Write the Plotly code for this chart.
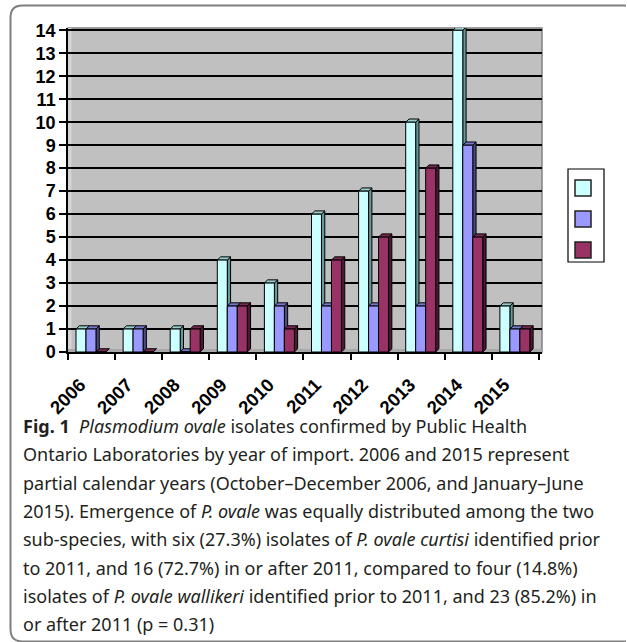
import plotly.graph_objects as go

# Isolates per year of import
years = ["2006", "2007", "2008", "2009", "2010", "2011", "2012", "2013", "2014", "2015"]
total_isolates = [1, 1, 1, 4, 3, 6, 7, 10, 14, 2]
curtisi_isolates = [1, 1, 0, 2, 2, 2, 2, 2, 9, 1]
wallikeri_isolates = [0, 0, 1, 2, 1, 4, 5, 8, 5, 1]
y_ticks = list(range(0, 15))

caption_lines = [
    "<b>Fig. 1</b>  <i>Plasmodium ovale</i> isolates confirmed by Public Health",
    "Ontario Laboratories by year of import. 2006 and 2015 represent",
    "partial calendar years (October–December 2006, and January–June",
    "2015). Emergence of <i>P. ovale</i> was equally distributed among the two",
    "sub-species, with six (27.3%) isolates of <i>P. ovale curtisi</i> identified prior",
    "to 2011, and 16 (72.7%) in or after 2011, compared to four (14.8%)",
    "isolates of <i>P. ovale wallikeri</i> identified prior to 2011, and 23 (85.2%) in",
    "or after 2011 (p = 0.31)",
]

# Styling: front / top / side colours for the pseudo-3D columns
series = [
    ("Total", total_isolates, "#CCFFFF", "#99CCCC", "#669999"),
    ("P. ovale curtisi", curtisi_isolates, "#9999FF", "#7777CC", "#4C4C80"),
    ("P. ovale wallikeri", wallikeri_isolates, "#993366", "#7A2952", "#4C1933"),
]

W, H = 627, 642
ML, MR, MT, MB = 68, 85, 28, 290
X_RANGE = [-0.5, 9.564]
Y_RANGE = [0, 14.1]
BAR_W = 0.212
OFFSETS = [-0.33, -0.118, 0.094]
DX, DY = 0.07, 0.14  # depth of the 3D faces in axis units
LABEL_SHIFT = -0.24  # rotated year labels sit left of the group centre

plot_w = W - ML - MR
plot_h = H - MT - MB


def px(x):
    return (x - ML) / plot_w


def py(y):
    return (H - MB - y) / plot_h


fig = go.Figure()
shapes = []
xs = list(range(len(years)))

# Outline of the back wall
shapes.append(dict(type="rect", xref="paper", yref="paper", layer="below",
                   x0=0, x1=1, y0=0, y1=1, line=dict(color="#808080", width=1.5)))
# Thin side wall and floor strips
shapes.append(dict(type="rect", xref="paper", yref="paper", layer="below",
                   x0=px(68), x1=px(71.5), y0=py(350), y1=1,
                   fillcolor="#D4D4D4", line=dict(width=0)))
shapes.append(dict(type="rect", xref="paper", yref="paper", layer="below",
                   x0=0, x1=1, y0=0, y1=py(349),
                   fillcolor="#A8A8A8", line=dict(width=0)))

for (name, vals, front, top, side), off in zip(series, OFFSETS):
    fig.add_trace(go.Bar(
        x=xs, y=vals, name=name, width=BAR_W, offset=off,
        marker=dict(color=front, line=dict(color="black", width=1)),
    ))
    for xi, v in zip(xs, vals):
        left = xi + off
        right = left + BAR_W
        shapes.append(dict(
            type="path", xref="x", yref="y", layer="between",
            path=f"M{right},0 L{right},{v} L{right + DX},{v + DY} L{right + DX},{DY} Z",
            fillcolor=side, line=dict(color="black", width=1),
        ))
        shapes.append(dict(
            type="path", xref="x", yref="y", layer="between",
            path=f"M{left},{v} L{right},{v} L{right + DX},{v + DY} L{left + DX},{v + DY} Z",
            fillcolor=top, line=dict(color="black", width=1),
        ))

# Legend box with colour swatches only
shapes.append(dict(type="rect", xref="paper", yref="paper",
                   x0=px(568), x1=px(604), y0=py(169), y1=py(262),
                   fillcolor="white", line=dict(color="black", width=1.2)))
for i, (_, _, front, _, _) in enumerate(series):
    y0 = 180 + 31 * i
    shapes.append(dict(type="rect", xref="paper", yref="paper",
                       x0=px(575), x1=px(591), y0=py(y0), y1=py(y0 + 16),
                       fillcolor=front, line=dict(color="#222222", width=1.5)))

# Rounded frame around figure and caption
fx0, fy0, fx1, fy1, r = 10.5, 5.5, 626, 641.5, 12
frame = (
    f"M{px(fx0)},{py(fy0 + r)} Q{px(fx0)},{py(fy0)} {px(fx0 + r)},{py(fy0)} "
    f"L{px(fx1)},{py(fy0)} "
    f"M{px(fx0)},{py(fy0 + r)} L{px(fx0)},{py(fy1 - r)} "
    f"Q{px(fx0)},{py(fy1)} {px(fx0 + r)},{py(fy1)} L{px(fx1)},{py(fy1)}"
)
shapes.append(dict(type="path", xref="paper", yref="paper", path=frame,
                   line=dict(color="#7F7F7F", width=2)))

annotations = []
for i, line in enumerate(caption_lines):
    annotations.append(dict(
        text=line, xref="paper", yref="paper", x=px(21), y=py(426 + 28.3 * i),
        xanchor="left", yanchor="middle", showarrow=False, align="left",
        font=dict(family="Noto Sans", size=18, color="#231F20"),
    ))

fig.update_layout(
    width=W, height=H,
    margin=dict(l=ML, r=MR, t=MT, b=MB),
    paper_bgcolor="white", plot_bgcolor="#C0C0C0",
    showlegend=False, barmode="overlay",
    shapes=shapes, annotations=annotations,
    xaxis=dict(
        range=X_RANGE, tickmode="array",
        tickvals=[xi + LABEL_SHIFT for xi in xs], ticktext=years,
        tickangle=-45, ticks="outside", ticklen=13, tickcolor="rgba(0,0,0,0)",
        showgrid=False, zeroline=False,
        showline=True, linecolor="black", linewidth=1.5,
        tickfont=dict(family="Liberation Sans", size=18.5, color="black", weight="bold"),
        minor=dict(tickmode="array", tickvals=[i - 0.5 for i in range(len(years) + 1)],
                   ticks="outside", ticklen=6, tickcolor="black", tickwidth=1.5),
    ),
    yaxis=dict(
        range=Y_RANGE, tickmode="array", tickvals=y_ticks,
        ticks="outside", ticklen=7, tickcolor="black", tickwidth=1.5,
        showgrid=True, gridcolor="black", gridwidth=1.5, zeroline=False,
        showline=True, linecolor="black", linewidth=1.5,
        tickfont=dict(family="Liberation Sans", size=18, color="black", weight="bold"),
    ),
)

fig.write_html("out.html")
